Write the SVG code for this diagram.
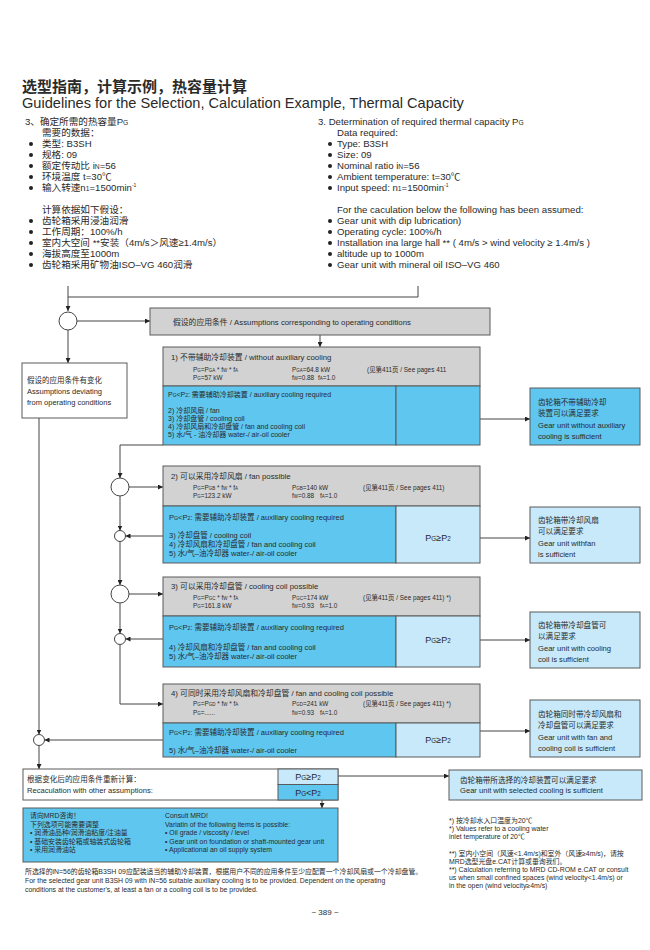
<svg xmlns="http://www.w3.org/2000/svg" width="650" height="950" viewBox="0 0 650 950">
<defs>
<style>
text{font-family:"Liberation Sans","Noto Sans CJK SC",sans-serif;fill:#2a2a2a}
.t1{font-size:14.6px}
.t0{font-size:15px;font-weight:bold}
.b{font-size:9.6px}
.sb{font-size:70%}
.h{font-size:7.8px}
.r{font-size:6.4px}
.s1{font-size:7px}
.s2{font-size:7.5px}
.bx{font-size:7.6px}
.pg{font-size:9px}
.sm{font-size:6.9px}
.gray{fill:#d2d2d2;stroke:#5a5a5a;stroke-width:1}
.blue{fill:#5ec6ef;stroke:#5a5a5a;stroke-width:1}
.lblue{fill:#c8e9f9;stroke:#5a5a5a;stroke-width:1}
.wbox{fill:#fff;stroke:#5a5a5a;stroke-width:1}
.circ{fill:#fff;stroke:#444;stroke-width:1}
.ln{fill:none;stroke:#444;stroke-width:1}
.dot{fill:#222}
</style>
<marker id="ah" viewBox="0 0 10 10" refX="10" refY="5" markerWidth="5" markerHeight="5" orient="auto"><path d="M0,0 L10,5 L0,10 z" fill="#222"/></marker>
</defs>
<rect width="650" height="950" fill="#fff"/>

<g id="title">
<text class="t0" x="22" y="92">选型指南，计算示例，热容量计算</text>
<text class="t1" x="22" y="108">Guidelines for the Selection, Calculation Example, Thermal Capacity</text>
</g>

<g id="intro-cn">
<text class="b" x="25" y="125">3、确定所需的热容量P<tspan class="sb">G</tspan></text>
<text class="b" x="42" y="136">需要的数据：</text>
<text class="b" x="42" y="147">类型: B3SH</text>
<text class="b" x="42" y="158">规格: 09</text>
<text class="b" x="42" y="169">额定传动比 i<tspan class="sb">N</tspan>=56</text>
<text class="b" x="42" y="180">环境温度 t=30℃</text>
<text class="b" x="42" y="191">输入转速n<tspan class="sb">1</tspan>=1500min<tspan font-size="5" dy="-4">-1</tspan></text>
<text class="b" x="42" y="213">计算依据如下假设：</text>
<text class="b" x="42" y="224">齿轮箱采用浸油润滑</text>
<text class="b" x="42" y="235">工作周期：100%/h</text>
<text class="b" x="42" y="246">室内大空间 **安装（4m/s＞风速≥1.4m/s）</text>
<text class="b" x="42" y="257">海拔高度至1000m</text>
<text class="b" x="42" y="268">齿轮箱采用矿物油ISO–VG 460润滑</text>
<circle class="dot" cx="31" cy="144" r="2"/><circle class="dot" cx="31" cy="155" r="2"/><circle class="dot" cx="31" cy="166" r="2"/><circle class="dot" cx="31" cy="177" r="2"/><circle class="dot" cx="31" cy="188" r="2"/>
<circle class="dot" cx="31" cy="221" r="2"/><circle class="dot" cx="31" cy="232" r="2"/><circle class="dot" cx="31" cy="243" r="2"/><circle class="dot" cx="31" cy="254" r="2"/><circle class="dot" cx="31" cy="265" r="2"/>
</g>

<g id="intro-en">
<text class="b" x="318" y="125">3. Determination of required thermal capacity P<tspan class="sb">G</tspan></text>
<text class="b" x="337" y="136">Data required:</text>
<text class="b" x="337" y="147">Type: B3SH</text>
<text class="b" x="337" y="158">Size: 09</text>
<text class="b" x="337" y="169">Nominal ratio  i<tspan class="sb">N</tspan>=56</text>
<text class="b" x="337" y="180">Ambient temperature: t=30℃</text>
<text class="b" x="337" y="191">Input speed: n<tspan class="sb">1</tspan>=1500min<tspan font-size="5" dy="-4">-1</tspan></text>
<text class="b" x="337" y="213">For the caculation below the following has been assumed:</text>
<text class="b" x="337" y="224">Gear unit with dip lubrication)</text>
<text class="b" x="337" y="235">Operating cycle: 100%/h</text>
<text class="b" x="337" y="246">Installation ina large hall ** ( 4m/s &gt; wind velocity ≥ 1.4m/s )</text>
<text class="b" x="337" y="257">altitude up to 1000m</text>
<text class="b" x="337" y="268">Gear unit with mineral oil ISO–VG 460</text>
<circle class="dot" cx="330" cy="144" r="2"/><circle class="dot" cx="330" cy="155" r="2"/><circle class="dot" cx="330" cy="166" r="2"/><circle class="dot" cx="330" cy="177" r="2"/><circle class="dot" cx="330" cy="188" r="2"/>
<circle class="dot" cx="330" cy="221" r="2"/><circle class="dot" cx="330" cy="232" r="2"/><circle class="dot" cx="330" cy="243" r="2"/><circle class="dot" cx="330" cy="254" r="2"/><circle class="dot" cx="330" cy="265" r="2"/>
</g>

<g id="connectors">
<path class="ln" d="M68,286 V311" marker-end="url(#ah)"/>
<path class="ln" d="M68,297 H418 V286"/>
<path class="ln" d="M77,321 H150" marker-end="url(#ah)"/>
<path class="ln" d="M68,330 V363" marker-end="url(#ah)"/>
<path class="ln" d="M320,335 V347" marker-end="url(#ah)"/>
<path class="ln" d="M396,419 H530" marker-end="url(#ah)"/>
<path class="ln" d="M163,445 H120 V478" marker-end="url(#ah)"/>
<path class="ln" d="M129,487 H163" marker-end="url(#ah)"/>
<path class="ln" d="M120,496 V530.5" marker-end="url(#ah)"/>
<path class="ln" d="M163,536 H125.5" marker-end="url(#ah)"/>
<path class="ln" d="M480,538 H530" marker-end="url(#ah)"/>
<path class="ln" d="M120,541.5 V585" marker-end="url(#ah)"/>
<path class="ln" d="M129,594 H163" marker-end="url(#ah)"/>
<path class="ln" d="M120,603 V633.5" marker-end="url(#ah)"/>
<path class="ln" d="M163,639 H125.5" marker-end="url(#ah)"/>
<path class="ln" d="M480,640 H530" marker-end="url(#ah)"/>
<path class="ln" d="M120,644.5 V704 H163" marker-end="url(#ah)"/>
<path class="ln" d="M480,731 H530" marker-end="url(#ah)"/>
<path class="ln" d="M163,740 H44.5" marker-end="url(#ah)"/>
<path class="ln" d="M39,418 V734.5" marker-end="url(#ah)"/>
<path class="ln" d="M39,745.5 V769" marker-end="url(#ah)"/>
<path class="ln" d="M338,776 H449" marker-end="url(#ah)"/>
<path class="ln" d="M322,800 V808" marker-end="url(#ah)"/>
</g>

<g id="n-start"><circle class="circ" cx="68" cy="321" r="9"/></g>
<g id="n-c2"><circle class="circ" cx="120" cy="487" r="9"/></g>
<g id="n-c2b"><circle class="circ" cx="120" cy="536" r="5.5"/></g>
<g id="n-c3"><circle class="circ" cx="120" cy="594" r="9"/></g>
<g id="n-c3b"><circle class="circ" cx="120" cy="639" r="5.5"/></g>
<g id="n-c4b"><circle class="circ" cx="39" cy="740" r="5.5"/></g>

<g id="n-assumptions">
<rect class="gray" x="150" y="308" width="340" height="27"/>
<text class="h" x="173" y="324.5">假设的应用条件 / Assumptions corresponding to operating conditions</text>
</g>

<g id="n-deviating">
<rect class="wbox" x="22" y="363" width="105" height="55"/>
<text class="s2" x="27" y="383">假设的应用条件有变化</text>
<text class="s2" x="27" y="394">Assumptions deviating</text>
<text class="s2" x="27" y="405">from operating conditions</text>
</g>

<g id="n-block1">
<rect class="gray" x="163" y="347" width="317" height="39"/>
<rect class="blue" x="163" y="386" width="233" height="59"/>
<rect class="blue" x="396" y="386" width="84" height="59"/>
<text class="h" x="171" y="360">1) 不带辅助冷却装置 / without auxiliary cooling</text>
<text class="r" x="193" y="372">P<tspan class="sb">G</tspan>=P<tspan class="sb">GA</tspan> * f<tspan class="sb">W</tspan> * f<tspan class="sb">A</tspan></text>
<text class="r" x="292" y="372">P<tspan class="sb">GA</tspan>=64.8 kW</text>
<text class="r" x="367" y="372">(见第411页 / See pages 411</text>
<text class="r" x="193" y="380">P<tspan class="sb">G</tspan>=57 kW</text>
<text class="r" x="292" y="380">f<tspan class="sb">W</tspan>=0.88</text>
<text class="r" x="318" y="380">f<tspan class="sb">A</tspan>=1.0</text>
<text class="s1" x="168" y="397">P<tspan class="sb">G</tspan>&lt;P<tspan class="sb">2</tspan>: 需要辅助冷却装置 / auxiliary cooling required</text>
<text class="s1" x="168" y="413">2) 冷却风扇 / fan</text>
<text class="s1" x="168" y="421">3) 冷却盘管 / cooling coil</text>
<text class="s1" x="168" y="429">4) 冷却风扇和冷却盘管 / fan and cooling coil</text>
<text class="s1" x="168" y="437">5) 水/气 - 油冷却器 water-/ air-oil cooler</text>
</g>

<g id="n-result1">
<rect class="blue" x="530" y="388" width="110" height="57"/>
<text class="bx" x="538" y="405">齿轮箱不带辅助冷却</text>
<text class="bx" x="538" y="416">装置可以满足要求</text>
<text class="bx" x="538" y="428">Gear unit without auxiliary</text>
<text class="bx" x="538" y="439">cooling is sufficient</text>
</g>

<g id="n-block2">
<rect class="gray" x="163" y="466" width="317" height="40"/>
<rect class="blue" x="163" y="506" width="233" height="57"/>
<rect class="lblue" x="396" y="506" width="84" height="57"/>
<text class="h" x="171" y="479">2) 可以采用冷却风扇 / fan possible</text>
<text class="r" x="193" y="490">P<tspan class="sb">G</tspan>=P<tspan class="sb">GB</tspan> * f<tspan class="sb">W</tspan> * f<tspan class="sb">A</tspan></text>
<text class="r" x="292" y="490">P<tspan class="sb">GB</tspan>=140 kW</text>
<text class="r" x="363" y="490">(见第411页 / See pages 411)</text>
<text class="r" x="193" y="498">P<tspan class="sb">G</tspan>=123.2 kW</text>
<text class="r" x="292" y="498">f<tspan class="sb">W</tspan>=0.88</text>
<text class="r" x="320" y="498">f<tspan class="sb">A</tspan>=1.0</text>
<text class="s2" x="169" y="520">P<tspan class="sb">G</tspan>&lt;P<tspan class="sb">2</tspan>: 需要辅助冷却装置 / auxiliary cooling required</text>
<text class="s2" x="169" y="538">3) 冷却盘管 / cooling coil</text>
<text class="s2" x="169" y="547">4) 冷却风扇和冷却盘管 / fan and cooling coil</text>
<text class="s2" x="169" y="556">5) 水/气–油冷却器 water-/ air-oil cooler</text>
<text class="pg" x="438" y="541" text-anchor="middle">P<tspan class="sb">G</tspan>≥P<tspan class="sb">2</tspan></text>
</g>

<g id="n-result2">
<rect class="lblue" x="530" y="507" width="110" height="56"/>
<text class="bx" x="538" y="523">齿轮箱带冷却风扇</text>
<text class="bx" x="538" y="534">可以满足要求</text>
<text class="bx" x="538" y="546">Gear unit withfan</text>
<text class="bx" x="538" y="557">is sufficient</text>
</g>

<g id="n-block3">
<rect class="gray" x="163" y="577" width="317" height="39"/>
<rect class="blue" x="163" y="616" width="233" height="51"/>
<rect class="lblue" x="396" y="616" width="84" height="51"/>
<text class="h" x="171" y="589">3) 可以采用冷却盘管 / cooling coil possible</text>
<text class="r" x="193" y="600">P<tspan class="sb">G</tspan>=P<tspan class="sb">GC</tspan> * f<tspan class="sb">W</tspan> * f<tspan class="sb">A</tspan></text>
<text class="r" x="292" y="600">P<tspan class="sb">GC</tspan>=174 kW</text>
<text class="r" x="363" y="600">(见第411页 / See pages 411) *)</text>
<text class="r" x="193" y="608">P<tspan class="sb">G</tspan>=161.8 kW</text>
<text class="r" x="292" y="608">f<tspan class="sb">W</tspan>=0.93</text>
<text class="r" x="320" y="608">f<tspan class="sb">A</tspan>=1.0</text>
<text class="s2" x="169" y="630">P<tspan class="sb">G</tspan>&lt;P<tspan class="sb">2</tspan>: 需要辅助冷却装置 / auxiliary cooling required</text>
<text class="s2" x="169" y="650">4) 冷却风扇和冷却盘管 / fan and cooling coil</text>
<text class="s2" x="169" y="659">5) 水/气–油冷却器 water-/ air-oil cooler</text>
<text class="pg" x="438" y="643" text-anchor="middle">P<tspan class="sb">G</tspan>≥P<tspan class="sb">2</tspan></text>
</g>

<g id="n-result3">
<rect class="lblue" x="530" y="612" width="110" height="56"/>
<text class="bx" x="538" y="628">齿轮箱带冷却盘管可</text>
<text class="bx" x="538" y="639">以满足要求</text>
<text class="bx" x="538" y="651">Gear unit with cooling</text>
<text class="bx" x="538" y="662">coil is sufficient</text>
</g>

<g id="n-block4">
<rect class="gray" x="163" y="684" width="317" height="39"/>
<rect class="blue" x="163" y="723" width="233" height="34"/>
<rect class="lblue" x="396" y="723" width="84" height="34"/>
<text class="h" x="171" y="696">4) 可同时采用冷却风扇和冷却盘管 / fan and cooling coil possible</text>
<text class="r" x="193" y="706">P<tspan class="sb">G</tspan>=P<tspan class="sb">GD</tspan> * f<tspan class="sb">W</tspan> * f<tspan class="sb">A</tspan></text>
<text class="r" x="292" y="706">P<tspan class="sb">GD</tspan>=241 kW</text>
<text class="r" x="363" y="706">(见第411页 / See pages 411) *)</text>
<text class="r" x="193" y="715">P<tspan class="sb">G</tspan>=......</text>
<text class="r" x="292" y="715">f<tspan class="sb">W</tspan>=0.93</text>
<text class="r" x="320" y="715">f<tspan class="sb">A</tspan>=1.0</text>
<text class="s2" x="169" y="735">P<tspan class="sb">G</tspan>&lt;P<tspan class="sb">2</tspan>: 需要辅助冷却装置 / auxiliary cooling required</text>
<text class="s2" x="169" y="753">5) 水/气–油冷却器 water-/ air-oil cooler</text>
<text class="pg" x="438" y="743" text-anchor="middle">P<tspan class="sb">G</tspan>≥P<tspan class="sb">2</tspan></text>
</g>

<g id="n-result4">
<rect class="lblue" x="530" y="700" width="110" height="57"/>
<text class="bx" x="538" y="717">齿轮箱同时带冷却风扇和</text>
<text class="bx" x="538" y="728">冷却盘管可以满足要求</text>
<text class="bx" x="538" y="740">Gear unit with fan and</text>
<text class="bx" x="538" y="751">cooling coil is sufficient</text>
</g>

<g id="n-recalc">
<rect class="wbox" x="23" y="769" width="315" height="31"/>
<rect class="lblue" x="278" y="769" width="60" height="15.5"/>
<rect class="blue" x="278" y="784.5" width="60" height="15.5"/>
<text class="bx" x="27" y="782">根据变化后的应用条件重新计算：</text>
<text class="bx" x="27" y="793">Recaculation with other assumptions:</text>
<text class="pg" x="308" y="780" text-anchor="middle">P<tspan class="sb">G</tspan>≥P<tspan class="sb">2</tspan></text>
<text class="pg" x="308" y="796" text-anchor="middle">P<tspan class="sb">G</tspan>&lt;P<tspan class="sb">2</tspan></text>
</g>

<g id="n-result5">
<rect class="lblue" x="449" y="770" width="193" height="30"/>
<text class="bx" x="460" y="783">齿轮箱带所选择的冷却装置可以满足要求</text>
<text class="bx" x="460" y="793">Gear unit with selected cooling is sufficient</text>
</g>

<g id="n-mrd">
<rect class="blue" x="23" y="808" width="315" height="54"/>
<text class="sm" x="30" y="818">请向MRD咨询！</text>
<text class="sm" x="30" y="826.5">下列选项可能需要调整</text>
<text class="sm" x="30" y="835">• 润滑油品种/润滑油粘度/注油量</text>
<text class="sm" x="30" y="843.5">• 基础安装齿轮箱或轴装式齿轮箱</text>
<text class="sm" x="30" y="852">• 采用润滑油站</text>
<text class="sm" x="165" y="818">Consult MRD!</text>
<text class="sm" x="165" y="826.5">Variatin of the following items is possible:</text>
<text class="sm" x="165" y="835">• Oil grade / viscosity / level</text>
<text class="sm" x="165" y="843.5">• Gear unit on foundation or shaft-mounted gear unit</text>
<text class="sm" x="165" y="852">• Applicational an oil supply system</text>
</g>

<g id="notes">
<text class="sm" x="25" y="874">所选择的iN=56的齿轮箱B3SH 09应配装适当的辅助冷却装置，根据用户不同的应用条件至少应配置一个冷却风扇或一个冷却盘管。</text>
<text class="sm" x="25" y="883">For the selected gear unit B3SH 09 with iN=56 suitable auxiliary cooling is to be provided. Dependent on the operating</text>
<text class="sm" x="25" y="892">conditions at the customer's, at least a fan or a cooling coil is to be provided.</text>
<text class="sm" x="449" y="823">*) 按冷却水入口温度为20℃</text>
<text class="sm" x="449" y="831">*) Values refer to a cooling water</text>
<text class="sm" x="449" y="839">inlet temperature of 20℃</text>
<text class="sm" x="449" y="856">**) 室内小空间（风速&lt;1.4m/s)和室外（风速≥4m/s)，请按</text>
<text class="sm" x="449" y="864">MRD选型光盘e.CAT计算或垂询我们。</text>
<text class="sm" x="449" y="872">**) Calculation referring to MRD CD-ROM e.CAT or consult</text>
<text class="sm" x="449" y="880">us when small confined spaces (wind velocity&lt;1.4m/s) or</text>
<text class="sm" x="449" y="888">in the open (wind velocity≥4m/s)</text>
<text x="325" y="915" font-size="8" text-anchor="middle">~ 389 ~</text>
</g>
</svg>
